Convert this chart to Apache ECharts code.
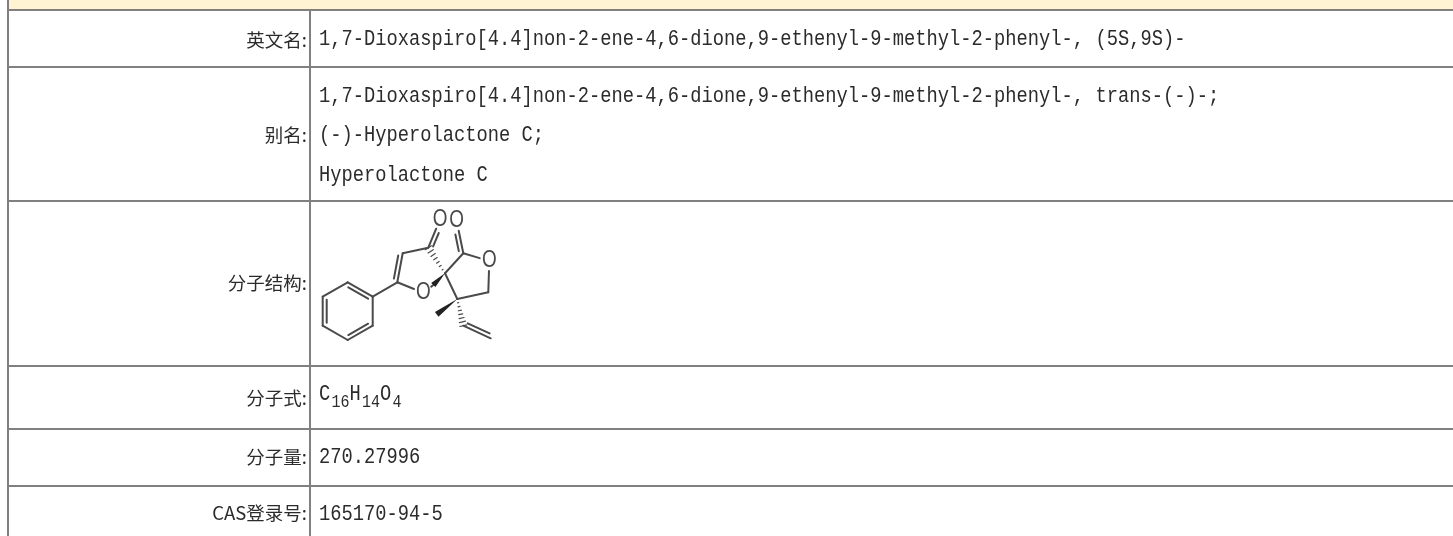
<!DOCTYPE html>
<html>
<head>
<meta charset="utf-8">
<style>
  html, body { margin: 0; padding: 0; background: #fff; }
  #main { width: 1453px; height: 536px; }
</style>
<script src="https://cdn.jsdelivr.net/npm/echarts@6/dist/echarts.min.js"></script>
</head>
<body>
<div id="main"></div>
<script>
  // table rows
  const rowLabels = ['英文名:', '别名:', '分子结构:', '分子式:', '分子量:', 'CAS登录号:'];
  const rowLabelY = [40, 135, 283, 398, 457, 513];
  const rowLineY = [9, 66, 200, 365, 428, 485];
  const valueLines = [
    '1,7-Dioxaspiro[4.4]non-2-ene-4,6-dione,9-ethenyl-9-methyl-2-phenyl-, (5S,9S)-',
    '1,7-Dioxaspiro[4.4]non-2-ene-4,6-dione,9-ethenyl-9-methyl-2-phenyl-, trans-(-)-;',
    '(-)-Hyperolactone C;',
    'Hyperolactone C',
    '270.27996',
    '165170-94-5'
  ];
  const valueLineY = [39, 96, 135, 175, 457, 514];
  const formulaParts = ['C', '16', 'H', '14', 'O', '4'];
  const formulaY = 394;

  // molecule: atom positions, bonds
  const atomX = [347.7, 372.7, 372.7, 347.7, 322.7, 322.7, 397.3, 402.7, 428.3, 445, 423.3, 440, 463.3, 456.7, 489.3, 488.3, 457.3, 436.7, 463.3, 490.7, 433.3];
  const atomY = [282.3, 296.7, 325.7, 340, 325.7, 296.7, 282.3, 253.3, 247.7, 273.3, 292.7, 219.5, 253.3, 221, 261, 292.3, 299, 314.3, 325.7, 338.3, 285];
  const oxygenAtoms = [10, 11, 13, 14];
  const singleBonds = [[0, 5], [1, 2], [3, 4], [1, 6], [6, 10], [7, 8], [9, 12], [12, 14], [14, 15], [15, 16], [16, 9], [10, 20]];
  const doubleBonds = [[0, 1, 1], [2, 3, 1], [4, 5, 1], [6, 7, -1], [8, 11, 1], [12, 13, -1], [18, 19, -1]];
  const wedgeBonds = [[9, 20], [16, 17]];
  const hashBonds = [[9, 8], [16, 18]];

  const LINE = '#808080';
  const TEXT = '#2b2b2b';
  const BOND = '#4a4a4a';
  const MONO = '"Liberation Mono", "DejaVu Sans Mono", monospace';
  const CJK = '"Noto Sans CJK SC", sans-serif';

  function rectItem(api, x0, y0, x1, y1, fill) {
    const a = api.coord([x0, y0]);
    const b = api.coord([x1, y1]);
    return { type: 'rect', shape: { x: a[0], y: a[1], width: b[0] - a[0], height: b[1] - a[1] }, style: { fill: fill } };
  }

  // trim bond ends that stop at an O label
  function bondEnds(api, i, j) {
    let a = api.coord([atomX[i], atomY[i]]);
    let b = api.coord([atomX[j], atomY[j]]);
    const dx = b[0] - a[0], dy = b[1] - a[1];
    const len = Math.sqrt(dx * dx + dy * dy);
    const ux = dx / len, uy = dy / len;
    if (oxygenAtoms.indexOf(i) >= 0) a = [a[0] + ux * 10, a[1] + uy * 10];
    if (oxygenAtoms.indexOf(j) >= 0) b = [b[0] - ux * 10, b[1] - uy * 10];
    return { a: a, b: b, ux: ux, uy: uy };
  }

  function lineItem(a, b, width) {
    return {
      type: 'line',
      shape: { x1: a[0], y1: a[1], x2: b[0], y2: b[1] },
      style: { stroke: BOND, lineWidth: width || 2, lineCap: 'round' }
    };
  }

  const chart = echarts.init(document.getElementById('main'));
  chart.setOption({
    animation: false,
    grid: { left: 0, right: 0, top: 0, bottom: 0 },
    xAxis: { type: 'value', min: 0, max: 1453, show: false },
    yAxis: { type: 'value', min: 0, max: 536, inverse: true, show: false },
    series: [
      {
        // cream band on top and the grey rules
        type: 'custom', silent: true, clip: false,
        data: rowLineY,
        renderItem: function (params, api) {
          const y = api.value(0);
          const kids = [rectItem(api, 7, y, 1453, y + 2, LINE)];
          if (params.dataIndex === 0) {
            kids.unshift(rectItem(api, 8, 0, 1453, y, '#fff3d3'));
            kids.push(rectItem(api, 7, 0, 9, 536, LINE));
            kids.push(rectItem(api, 309, y, 311, 536, LINE));
          }
          return { type: 'group', children: kids };
        }
      },
      {
        type: 'custom', silent: true, clip: false,
        data: rowLabels.map(function (t, i) { return [rowLabelY[i], t]; }),
        renderItem: function (params, api) {
          const p = api.coord([307, api.value(0)]);
          return {
            type: 'text', x: p[0], y: p[1],
            style: { text: rowLabels[params.dataIndex], fill: TEXT, font: '18.5px ' + CJK, textAlign: 'right', textVerticalAlign: 'middle' }
          };
        }
      },
      {
        type: 'custom', silent: true, clip: false,
        data: valueLines.map(function (t, i) { return [valueLineY[i], t]; }),
        renderItem: function (params, api) {
          const p = api.coord([319, api.value(0)]);
          return {
            type: 'text', x: p[0], y: p[1], scaleY: 1.2,
            style: { text: valueLines[params.dataIndex], fill: TEXT, font: '18.75px ' + MONO, textAlign: 'left', textVerticalAlign: 'middle' }
          };
        }
      },
      {
        // C16H14O4 with the counts dropped
        type: 'custom', silent: true, clip: false,
        data: formulaParts.map(function (t, i) { return [i, t]; }),
        renderItem: function (params, api) {
          const i = params.dataIndex;
          let x = 319;
          for (let k = 0; k < i; k++) x += k % 2 ? formulaParts[k].length * 9 : 12.5;
          const sub = i % 2 === 1;
          const p = api.coord([x, formulaY + (sub ? 8 : 0)]);
          return {
            type: 'text', x: p[0], y: p[1], scaleY: 1.2,
            style: { text: formulaParts[i], fill: TEXT, font: (sub ? '15px ' : '18.75px ') + MONO, textAlign: 'left', textVerticalAlign: 'middle' }
          };
        }
      },
      {
        type: 'custom', silent: true, clip: false,
        data: singleBonds,
        renderItem: function (params, api) {
          const e = bondEnds(api, api.value(0), api.value(1));
          return lineItem(e.a, e.b);
        }
      },
      {
        type: 'custom', silent: true, clip: false,
        data: doubleBonds,
        renderItem: function (params, api) {
          const e = bondEnds(api, api.value(0), api.value(1));
          const side = api.value(2);
          const nx = -e.uy * side * 4, ny = e.ux * side * 4;
          const trim = 3;
          return {
            type: 'group',
            children: [
              lineItem(e.a, e.b),
              lineItem(
                [e.a[0] + nx + e.ux * trim, e.a[1] + ny + e.uy * trim],
                [e.b[0] + nx - e.ux * trim, e.b[1] + ny - e.uy * trim]
              )
            ]
          };
        }
      },
      {
        type: 'custom', silent: true, clip: false,
        data: wedgeBonds,
        renderItem: function (params, api) {
          const e = bondEnds(api, api.value(0), api.value(1));
          const nx = -e.uy * 3, ny = e.ux * 3;
          return {
            type: 'polygon',
            shape: { points: [e.a, [e.b[0] + nx, e.b[1] + ny], [e.b[0] - nx, e.b[1] - ny]] },
            style: { fill: '#222' }
          };
        }
      },
      {
        type: 'custom', silent: true, clip: false,
        data: hashBonds,
        renderItem: function (params, api) {
          const e = bondEnds(api, api.value(0), api.value(1));
          const kids = [];
          const dx = e.b[0] - e.a[0], dy = e.b[1] - e.a[1];
          for (let t = 1; t <= 7; t++) {
            const f = t / 7;
            const c = [e.a[0] + dx * f, e.a[1] + dy * f];
            const w = 3.6 * f;
            kids.push(lineItem(
              [c[0] - e.uy * w, c[1] + e.ux * w],
              [c[0] + e.uy * w, c[1] - e.ux * w],
              1.2
            ));
          }
          return { type: 'group', children: kids };
        }
      },
      {
        type: 'custom', silent: true, clip: false,
        data: oxygenAtoms,
        renderItem: function (params, api) {
          const n = api.value(0);
          const p = api.coord([atomX[n], atomY[n]]);
          return {
            type: 'text', x: p[0], y: p[1], scaleX: 0.9, scaleY: 1.1,
            style: { text: 'O', fill: BOND, font: '21px "Liberation Sans", sans-serif', textAlign: 'center', textVerticalAlign: 'middle' }
          };
        }
      }
    ]
  });
</script>
</body>
</html>
